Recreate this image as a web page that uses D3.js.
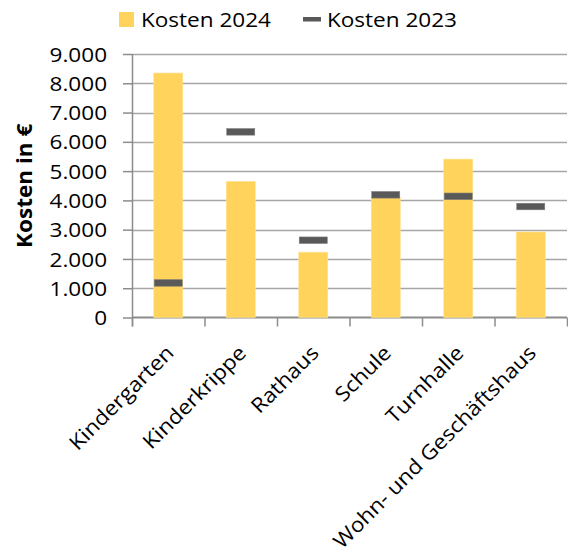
<!DOCTYPE html>
<html>
<head>
<meta charset="utf-8">
<script src="https://cdn.jsdelivr.net/npm/d3@7"></script>
<style>
  html, body { margin: 0; padding: 0; background: #fff; }
  svg text { font-family: "Open Sans", "Noto Sans", sans-serif; fill: #000; }
</style>
</head>
<body>
<svg id="chart" width="568" height="557"></svg>
<script>
// Baukosten je Gebäude, 2024 als Säule, 2023 als Strichmarke
const categories = ["Kindergarten", "Kinderkrippe", "Rathaus", "Schule", "Turnhalle", "Wohn- und Geschäftshaus"];
const kosten2024 = [8350, 4650, 2230, 4100, 5410, 2920];
const kosten2023 = [1180, 6340, 2640, 4190, 4140, 3790];
const yTicks = [0, 1000, 2000, 3000, 4000, 5000, 6000, 7000, 8000, 9000];
const seriesNames = ["Kosten 2024", "Kosten 2023"];
const yTitle = "Kosten in €";

const barColor = "#FFD35C";
const markColor = "#595959";
const gridColor = "#A6A6A6";
const axisColor = "#8C8C8C";
const fontSize = 20.5;
const stretch = 1.1; // horizontal glyph stretch of all labels

const svg = d3.select("#chart");
const margin = { left: 132, right: 1, top: 54, bottom: 239.5 };
const W = 568, H = 557;

const x = d3.scaleBand().domain(categories).range([margin.left, W - margin.right]).paddingInner(0).paddingOuter(0);
const y = d3.scaleLinear().domain([0, 9000]).range([H - margin.bottom, margin.top]);

const fmt = v => d3.format(",")(v).replace(/,/g, ".");

// Gitterlinien
svg.append("g")
  .selectAll("line")
  .data(yTicks.filter(t => t > 0))
  .join("line")
  .attr("x1", margin.left).attr("x2", W - margin.right)
  .attr("y1", d => Math.round(y(d)) + 0.5).attr("y2", d => Math.round(y(d)) + 0.5)
  .attr("stroke", gridColor).attr("stroke-width", 1.5);

// Y-Achse
const yAxis = d3.axisLeft(y).tickValues(yTicks).tickSize(9).tickPadding(16).tickFormat(fmt);
const gy = svg.append("g").attr("transform", `translate(${margin.left},0)`).call(yAxis);
gy.select(".domain").remove();
gy.selectAll(".tick line").attr("stroke", axisColor).attr("stroke-width", 1.5);
gy.selectAll(".tick text")
  .attr("font-size", fontSize).attr("fill", "#000")
  .attr("dy", null).attr("dominant-baseline", "central")
  .attr("transform", function () {
    const xx = +d3.select(this).attr("x");
    return `translate(${xx},-1) scale(${stretch},1) translate(${-xx},0)`;
  });
gy.append("line")
  .attr("x1", 0.5).attr("x2", 0.5)
  .attr("y1", y(9000)).attr("y2", y(0) + 9)
  .attr("stroke", axisColor).attr("stroke-width", 1.5);

// X-Achse
const xAxis = d3.axisBottom(x).tickSize(0).tickFormat("");
const gx = svg.append("g").attr("transform", `translate(0,${y(0)})`).call(xAxis);
gx.select(".domain").remove();
gx.selectAll(".tick").remove();
gx.append("line").attr("x1", margin.left).attr("x2", W - margin.right)
  .attr("y1", 0).attr("y2", 0).attr("stroke", axisColor).attr("stroke-width", 2);
gx.selectAll(".bound")
  .data(categories.map(c => x(c)).concat([x(categories[categories.length - 1]) + x.bandwidth()]))
  .join("line").attr("class", "bound")
  .attr("x1", d => d + 0.5).attr("x2", d => d + 0.5)
  .attr("y1", 0).attr("y2", 9)
  .attr("stroke", axisColor).attr("stroke-width", 1.5);

// Säulen 2024
const barW = x.bandwidth() * 0.4;
svg.append("g")
  .selectAll("rect")
  .data(categories.map((c, i) => ({ c, v: kosten2024[i] })))
  .join("rect")
  .attr("x", d => x(d.c) + (x.bandwidth() - barW) / 2)
  .attr("width", barW)
  .attr("y", d => y(d.v))
  .attr("height", d => y(0) - y(d.v))
  .attr("fill", barColor)
  .attr("stroke", "#FFE28F").attr("stroke-width", 0.6);

// Strichmarken 2023
const markW = 28, markH = 6.5;
svg.append("g")
  .selectAll("rect")
  .data(categories.map((c, i) => ({ c, v: kosten2023[i] })))
  .join("rect")
  .attr("x", d => x(d.c) + x.bandwidth() / 2 - markW / 2)
  .attr("y", d => y(d.v) - markH / 2)
  .attr("width", markW).attr("height", markH)
  .attr("fill", markColor)
  .attr("stroke", "#7a7a7a").attr("stroke-width", 0.6);

// Kategoriebeschriftungen, um 45° gedreht
svg.append("g")
  .selectAll("text")
  .data(categories)
  .join("text")
  .attr("transform", d => `translate(${x(d) + x.bandwidth() / 2 + 1},${y(0) + 31}) rotate(-45) scale(${stretch},1)`)
  .attr("text-anchor", "end")
  .attr("dominant-baseline", "central")
  .attr("font-size", fontSize)
  .text(d => d);

// Achsentitel
svg.append("text")
  .attr("transform", `translate(24,${(y(0) + y(9000)) / 2}) rotate(-90) scale(${stretch},1)`)
  .attr("text-anchor", "middle")
  .attr("dominant-baseline", "central")
  .attr("font-size", fontSize)
  .attr("font-weight", "bold")
  .text(yTitle);

// Legende
const lg = svg.append("g");
lg.append("rect").attr("x", 119).attr("y", 12).attr("width", 15).attr("height", 15).attr("fill", barColor);
lg.append("text").attr("transform", `translate(141,27) scale(${stretch},1)`).attr("font-size", fontSize).text(seriesNames[0]);
lg.append("rect").attr("x", 303).attr("y", 17).attr("width", 18).attr("height", 4.5).attr("fill", markColor);
lg.append("text").attr("transform", `translate(327,27) scale(${stretch},1)`).attr("font-size", fontSize).text(seriesNames[1]);
</script>
</body>
</html>
